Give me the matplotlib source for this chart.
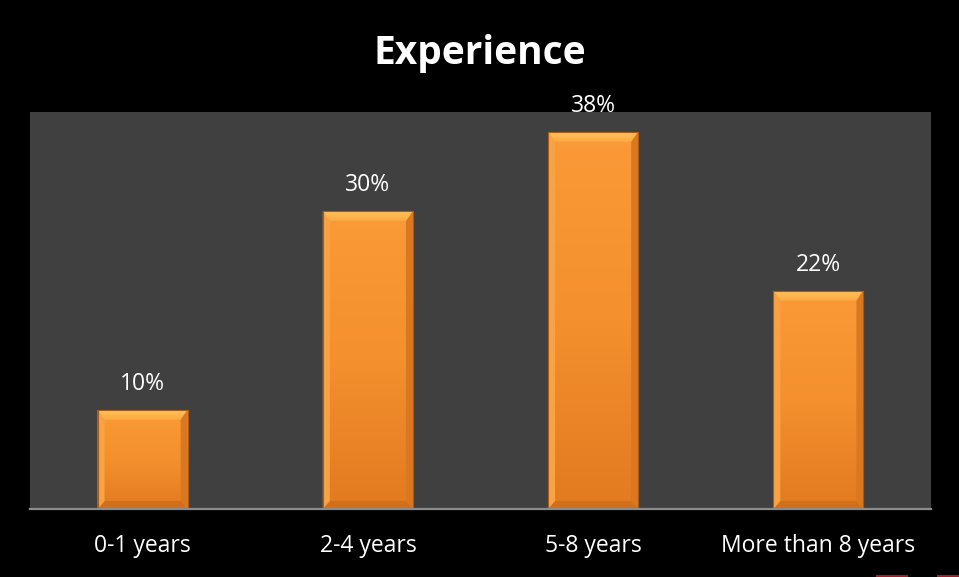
import matplotlib.pyplot as plt
import numpy as np
from matplotlib.patches import Polygon, Rectangle
from matplotlib.colors import LinearSegmentedColormap

# Datos de la grafica
categorias = ['0-1 years', '2-4 years', '5-8 years', 'More than 8 years']
porcentajes = [10, 30, 38, 22]
titulo = 'Experience'

plt.rcParams['font.family'] = ['Open Sans', 'DejaVu Sans']

fig = plt.figure(figsize=(9.59, 5.77), dpi=100, facecolor='black')
W, H = 959, 577
ax = fig.add_axes([30 / W, (H - 509) / H, 901 / W, 397 / H])
ax.set_facecolor('#404040')
ax.set_xlim(-0.5, 3.5)
ax.set_ylim(0, 40)

x = np.arange(len(categorias))
ancho = 0.4
bars = ax.bar(x, porcentajes, width=ancho, color='#F39130', edgecolor='#A85A16',
              linewidth=0.8, zorder=2)

# tamaño del bisel en unidades de datos (pixeles -> datos)
px_x = 4.0 / 901
px_y = 40.0 / 397
bx = 7 * px_x
by_top = 10 * px_y
by = 8 * px_y

# degradado vertical del cuerpo de cada barra
grad = np.linspace(0, 1, 256).reshape(-1, 1)
cmap = LinearSegmentedColormap.from_list('naranja', ['#E27A20', '#F4902E', '#FB9A38'])
cmap_top = LinearSegmentedColormap.from_list('claro', ['#FDA83F', '#FFC45C'])

for b, v in zip(bars, porcentajes):
    x0 = b.get_x()
    x1 = x0 + b.get_width()
    im = ax.imshow(grad, extent=[x0, x1, 0, v], origin='lower', cmap=cmap,
                   aspect='auto', zorder=2.1)
    im.set_clip_path(b)
    # bisel superior (claro, con degradado)
    top = Polygon([(x0, v), (x1, v), (x1 - bx, v - by_top), (x0 + bx, v - by_top)],
                  closed=True, facecolor='none', edgecolor='none', zorder=2.2)
    ax.add_patch(top)
    imt = ax.imshow(grad, extent=[x0, x1, v - by_top, v], origin='lower', cmap=cmap_top,
                    aspect='auto', zorder=2.2)
    imt.set_clip_path(top)
    # bisel inferior (oscuro)
    ax.add_patch(Polygon([(x0, 0), (x1, 0), (x1 - bx, by), (x0 + bx, by)],
                         closed=True, facecolor='#D0701D', edgecolor='none', zorder=2.2))
    # biseles laterales
    ax.add_patch(Polygon([(x0, 0), (x0 + bx, by), (x0 + bx, v - by_top), (x0, v)],
                         closed=True, facecolor='#F9A243', edgecolor='none', zorder=2.2))
    ax.add_patch(Polygon([(x1, 0), (x1 - bx, by), (x1 - bx, v - by_top), (x1, v)],
                         closed=True, facecolor='#D97820', edgecolor='none', zorder=2.2))
    ax.add_patch(Rectangle((x0, 0), x1 - x0, v, facecolor='none', edgecolor='#A85A16',
                           linewidth=0.8, zorder=2.3))
    ax.text(b.get_x() + b.get_width() / 2, v + 1.4, f'{v}%', ha='center', va='bottom',
            color='white', fontsize=16.5, zorder=3)

ax.set_xticks(x)
ax.set_xticklabels(categorias, color='white', fontsize=16.5)
ax.tick_params(axis='x', length=0, pad=18)
ax.set_yticks([])
for s in ['top', 'left', 'right']:
    ax.spines[s].set_visible(False)
ax.spines['bottom'].set_color('#8C8C8C')
ax.spines['bottom'].set_linewidth(1.6)
ax.spines['bottom'].set_zorder(4)

fig.text(480 / W, 1 - 64 / H, titulo, ha='center', va='baseline', color='white',
         fontsize=28, fontweight='bold')

# marcas rojas en la esquina inferior
fig.patches.append(Rectangle((876 / W, 0), 32 / W, 2 / H, transform=fig.transFigure,
                             facecolor='#E8283C', edgecolor='none', alpha=0.7))
fig.patches.append(Rectangle((937 / W, 0), 22 / W, 2 / H, transform=fig.transFigure,
                             facecolor='#E8283C', edgecolor='none', alpha=0.7))

fig.savefig('out.png', dpi=100, facecolor='black')
